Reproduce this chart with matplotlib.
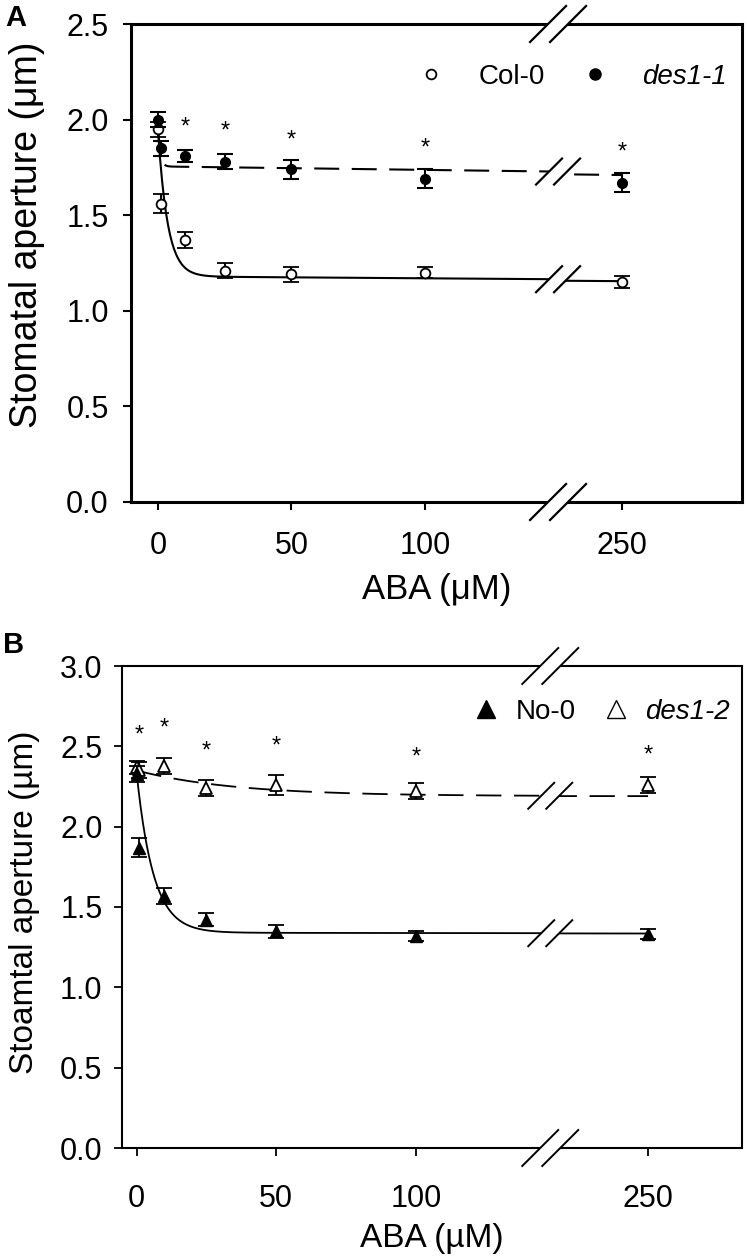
import numpy as np
import matplotlib
matplotlib.use("Agg")
from matplotlib import pyplot as plt
from matplotlib.lines import Line2D
from matplotlib.patches import Polygon
from matplotlib.transforms import IdentityTransform

plt.rcParams["font.family"] = ["Liberation Sans", "DejaVu Sans"]
plt.rcParams["font.size"] = 20

# ABA concentrations (uM)
aba = [0, 1, 10, 25, 50, 100, 250]
xtick_values = [0, 50, 100, 250]

# panel A
col0 = [1.95, 1.56, 1.37, 1.21, 1.19, 1.20, 1.15]
col0_err = [0.04, 0.05, 0.04, 0.04, 0.04, 0.03, 0.03]
des11 = [2.00, 1.85, 1.81, 1.78, 1.74, 1.69, 1.67]
des11_err = [0.04, 0.04, 0.03, 0.04, 0.05, 0.05, 0.05]
stars_a_x = [10, 25, 50, 100, 250]
stars_a_y = [1.96, 1.94, 1.89, 1.85, 1.83]

# panel B
no0 = [2.33, 1.87, 1.57, 1.42, 1.35, 1.32, 1.33]
no0_err = [0.05, 0.06, 0.05, 0.04, 0.04, 0.03, 0.03]
des12 = [2.37, 2.35, 2.38, 2.24, 2.26, 2.22, 2.26]
des12_err = [0.04, 0.05, 0.05, 0.05, 0.06, 0.05, 0.05]
stars_b_x = [1, 10, 25, 50, 100, 250]
stars_b_y = [2.57, 2.61, 2.47, 2.50, 2.43, 2.44]

# fitted curves: plateau + amp*exp(-x/tau) + slope*x
fit_col0 = (1.18, 0.75, 3.6, -0.0001)
fit_des11 = (1.755, 0.2, 0.8, -0.00018)
fit_no0 = (1.34, 1.0, 6.0, -0.00002)
fit_des12 = (2.19, 0.16, 35.0, 0.0)

BREAK = 148


def fit(p, x):
    plateau, amp, tau, slope = p
    return plateau + amp * np.exp(-x / tau) + slope * x


def pos(x, shift):
    # broken x axis: values past the break are pulled left
    x = np.asarray(x, dtype=float)
    return np.where(x > BREAK, x - shift, x)


def curve(ax, p, shift, **kw):
    xs = np.concatenate([np.linspace(0, BREAK, 400), np.linspace(BREAK + shift, 250, 60)])
    ax.plot(pos(xs, shift), fit(p, xs), color="black", zorder=2, **kw)


def slash_pair(fig, ax, xpos, ydata, half, gap, lw, ycoord="data"):
    if ycoord == "data":
        cx, cy = ax.transData.transform((xpos, ydata))
    else:
        cx = ax.transData.transform((xpos, 0))[0]
        cy = ax.transAxes.transform((0, ydata))[1]
    c1, c2 = cx - gap / 2, cx + gap / 2
    m = half * 0.7
    mask = Polygon([(c1 - m, cy - m), (c2 - m, cy - m), (c2 + m, cy + m), (c1 + m, cy + m)],
                   closed=True, facecolor="white", edgecolor="none",
                   transform=IdentityTransform(), zorder=20)
    fig.add_artist(mask)
    for c in (c1, c2):
        fig.add_artist(Line2D([c - half, c + half], [cy - half, cy + half], color="black",
                              lw=lw, transform=IdentityTransform(), zorder=21))


fig = plt.figure(figsize=(7.47, 12.59), dpi=100)
W, H = 747, 1259

# ---------- A ----------
shift_a = 76
axA = fig.add_axes([131 / W, 1 - 502 / H, 611 / W, 478 / H])
curve(axA, fit_col0, shift_a, lw=1.5)
curve(axA, fit_des11, shift_a, lw=1.5, dashes=(12, 6))
axA.errorbar(pos(aba, shift_a), col0, yerr=col0_err, fmt="o", ms=7, mfc="white", mec="black",
             mew=1.3, ecolor="black", elinewidth=1.5, capsize=6, capthick=1.5, zorder=3)
axA.errorbar(pos(aba, shift_a), des11, yerr=des11_err, fmt="o", ms=7, mfc="black", mec="black",
             ecolor="black", elinewidth=1.5, capsize=6, capthick=1.5, zorder=4)
for x, y in zip(stars_a_x, stars_a_y):
    axA.text(pos(x, shift_a), y, "*", ha="center", va="center", fontsize=17)
axA.set_xlim(-10.2, 219)
axA.set_ylim(0, 2.5)
axA.set_yticks(np.arange(0, 2.51, 0.5))
axA.set_yticklabels([f"{v:.1f}" for v in np.arange(0, 2.51, 0.5)])
axA.set_xticks(pos(xtick_values, shift_a))
axA.set_xticklabels([str(v) for v in xtick_values])
axA.tick_params(direction="out", length=6, width=1.5, pad=10, labelsize=22)
axA.tick_params(axis="x", pad=15)
for s in axA.spines.values():
    s.set_linewidth(2.2)
axA.set_xlabel("ABA (\u03bcM)", fontsize=25, va="center")
axA.set_ylabel("Stomatal aperture (\u03bcm)", fontsize=27, va="center")
axA.xaxis.set_label_coords(0.5, (502 - 590) / 478)
axA.yaxis.set_label_coords((27 - 131) / 611, 0.56)
hA = [Line2D([], [], ls="none", marker="o", ms=7, mfc="white", mec="black", mew=1.3),
      Line2D([], [], ls="none", marker="o", ms=8, mfc="black", mec="black")]
legA = axA.legend(hA, ["Col-0", "des1-1"], ncol=2, frameon=False, loc="center right",
                  bbox_to_anchor=(0.975, 0.89), borderaxespad=0, borderpad=0,
                  handlelength=1, handletextpad=1.2, columnspacing=1.3)
legA.get_texts()[1].set_style("italic")

# ---------- B ----------
shift_b = 67
axB = fig.add_axes([122 / W, 1 - 1148 / H, 620 / W, 482 / H])
curve(axB, fit_no0, shift_b, lw=1.3)
curve(axB, fit_des12, shift_b, lw=1.3, dashes=(14, 7))
axB.errorbar(pos(aba, shift_b), no0, yerr=no0_err, fmt="^", ms=9, mfc="black", mec="black",
             ecolor="black", elinewidth=1.3, capsize=6, capthick=1.3, zorder=4)
axB.errorbar(pos(aba, shift_b), des12, yerr=des12_err, fmt="^", ms=9, mfc="white", mec="black",
             mew=1.3, ecolor="black", elinewidth=1.3, capsize=6, capthick=1.3, zorder=3)
for x, y in zip(stars_b_x, stars_b_y):
    axB.text(pos(x, shift_b), y, "*", ha="center", va="center", fontsize=17)
axB.set_xlim(-5.2, 216.6)
axB.set_ylim(0, 3.0)
axB.set_yticks(np.arange(0, 3.01, 0.5))
axB.set_yticklabels([f"{v:.1f}" for v in np.arange(0, 3.01, 0.5)])
axB.set_xticks(pos(xtick_values, shift_b))
axB.set_xticklabels([str(v) for v in xtick_values])
axB.tick_params(direction="out", length=6, width=1.3, pad=8, labelsize=22)
axB.tick_params(axis="x", pad=20)
for s in axB.spines.values():
    s.set_linewidth(1.5)
axB.set_xlabel("ABA (\u00b5M)", fontsize=24, va="center")
axB.set_ylabel("Stoamtal aperture (\u00b5m)", fontsize=24, va="center")
axB.xaxis.set_label_coords(0.5, (1148 - 1238) / 482)
axB.yaxis.set_label_coords((25 - 122) / 620, 0.51)
hB = [Line2D([], [], ls="none", marker="^", ms=13, mfc="black", mec="black"),
      Line2D([], [], ls="none", marker="^", ms=13, mfc="white", mec="black", mew=1.0)]
legB = axB.legend(hB, ["No-0", "des1-2"], ncol=2, frameon=False, loc="center right",
                  bbox_to_anchor=(0.98, 0.905), borderaxespad=0, borderpad=0,
                  handlelength=1, handletextpad=0.55, columnspacing=0.95)
legB.get_texts()[1].set_style("italic")

# axis break marks
for ax, shift, fits, lw, brk in ((axA, shift_a, (fit_col0, fit_des11), 1.6, 150),
                                 (axB, shift_b, (fit_no0, fit_des12), 1.4, BREAK)):
    slash_pair(fig, ax, brk, 0, 18, 20, lw, ycoord="axes")
    slash_pair(fig, ax, brk, 1, 18, 20, lw, ycoord="axes")
    for p in fits:
        slash_pair(fig, ax, brk, float(fit(p, BREAK)), 13, 18, lw)

fig.text(5 / W, 1 - 18 / H, "A", fontsize=21, fontweight="bold", va="center")
fig.text(3 / W, 1 - 645 / H, "B", fontsize=21, fontweight="bold", va="center")

fig.savefig("out.png", dpi=100)
